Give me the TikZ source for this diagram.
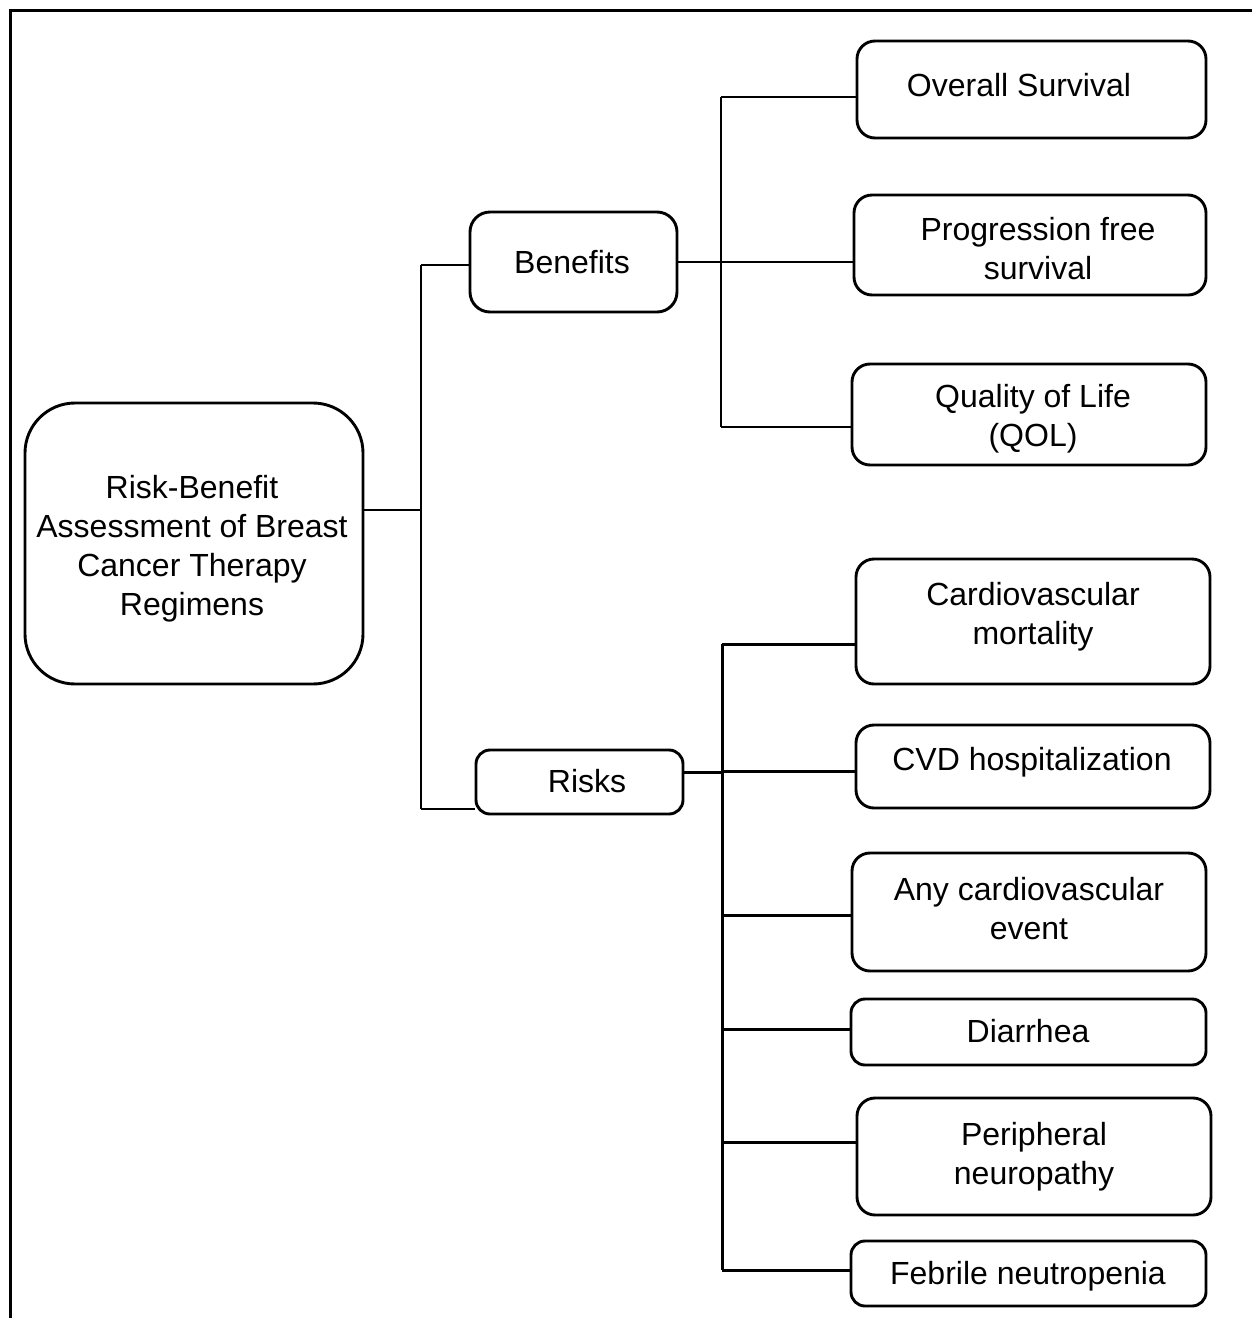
\documentclass[tikz,border=0pt]{standalone}
\usepackage{fontspec}
\setmainfont{Liberation Sans}
\begin{document}
\begin{tikzpicture}[x=1pt,y=-1pt,
  box/.style={draw, line width=2.9pt, rounded corners=18pt, inner sep=0pt, minimum width=#1},
  txt/.style={inner sep=0pt, align=center, font=\fontsize{32}{39}\selectfont},
  thinline/.style={line width=1.3pt},
  thickline/.style={line width=3pt}]
\useasboundingbox (0,0) rectangle (1252,1318);
% frame
\draw[line width=3pt] (10,1318) -- (10,10) -- (1252,10);

% boxes
\node[box=338pt, minimum height=281pt, rounded corners=50pt] (main) at (194,543.5) {};
\node[box=207pt, minimum height=100pt, rounded corners=20pt] (ben) at (573.5,262) {};
\node[box=207pt, minimum height=64pt, rounded corners=14pt] (risk) at (579.5,782) {};
\node[box=349pt, minimum height=97pt] (os) at (1031.5,89.5) {};
\node[box=352pt, minimum height=100pt] (pfs) at (1030,245) {};
\node[box=354pt, minimum height=101pt] (qol) at (1029,414.5) {};
\node[box=354pt, minimum height=125pt] (cvm) at (1033,621.5) {};
\node[box=354pt, minimum height=83pt] (cvh) at (1033,766.5) {};
\node[box=354pt, minimum height=118pt] (acv) at (1029,912) {};
\node[box=355pt, minimum height=66pt, rounded corners=14pt] (dia) at (1028.5,1032) {};
\node[box=354pt, minimum height=117pt] (pn) at (1034,1156.5) {};
\node[box=355pt, minimum height=65pt, rounded corners=14pt] (fn) at (1028.5,1273.5) {};

% texts
\node[txt] (tmain) at (192,548.5) {Risk-Benefit\\Assessment of Breast\\Cancer Therapy\\Regimens};
\node[txt] (tben) at (572,262) {Benefits};
\node[txt] (trisk) at (587,781) {Risks};
\node[txt] (tos) at (1019,85) {Overall Survival};
\node[txt] (tpfs) at (1038,248.5) {Progression free\\survival};
\node[txt] (tqol) at (1033,418.5) {Quality of Life\\(QOL)};
\node[txt] (tcvm) at (1033,617) {Cardiovascular\\mortality};
\node[txt] (tcvh) at (1032,762) {CVD hospitalization};
\node[txt] (tacv) at (1029,908.5) {Any cardiovascular\\event};
\node[txt] (tdia) at (1028,1031) {Diarrhea};
\node[txt] (tpn) at (1034,1156.5) {Peripheral\\neuropathy};
\node[txt] (tfn) at (1028,1276) {Febrile neutropenia};

% main tree
\coordinate (j0) at (421,510);
\coordinate (jb) at (421,265);
\coordinate (jr) at (421,809);
\draw[thinline] (main.east |- j0) -- (j0);
\draw[thinline] (jb) -- (jr);
\draw[thinline] (jb) -- (ben.west |- jb);
\draw[thinline] (jr) -- (risk.west |- jr);

% benefits bus
\coordinate (bt) at (721,97);
\coordinate (bb) at (721,427);
\draw[thinline] (ben.east) -- (ben.east -| pfs.west);
\draw[thinline] (bt) -- (bb);
\draw[thinline] (bt) -- (os.west |- bt);
\draw[thinline] (bb) -- (qol.west |- bb);

% risks bus
\coordinate (rj) at (722,772);
\coordinate (rt) at (722,644);
\coordinate (rb) at (722,1270);
\draw[thickline] (risk.east |- rj) -- (rj);
\draw[thickline] (rt) -- (rb);
\draw[thickline] (rt) -- (cvm.west |- rt);
\draw[thickline] (722,771) coordinate (r2) -- (cvh.west |- r2);
\draw[thickline] (722,915) coordinate (r3) -- (acv.west |- r3);
\draw[thickline] (722,1029) coordinate (r4) -- (dia.west |- r4);
\draw[thickline] (722,1142) coordinate (r5) -- (pn.west |- r5);
\draw[thickline] (rb) -- (fn.west |- rb);
\end{tikzpicture}
\end{document}
